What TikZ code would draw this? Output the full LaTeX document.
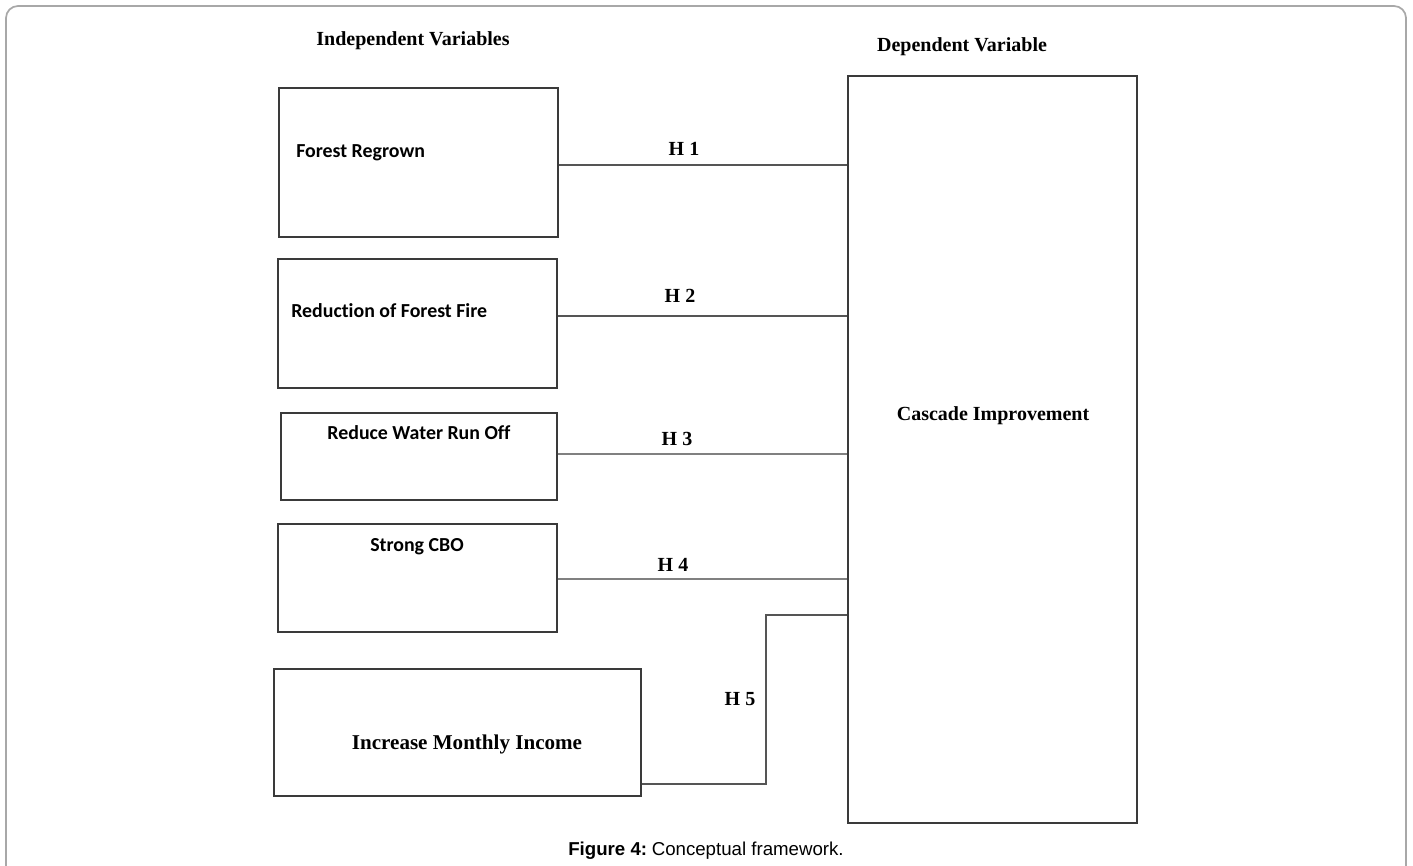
\documentclass[tikz,border=0pt]{standalone}
\usepackage{fontspec}
\setmainfont{Liberation Serif}
\newfontfamily\calib[Ligatures=NoCommon]{Carlito}
\newfontfamily\arialf{Liberation Sans}
\usetikzlibrary{fit}
\definecolor{frame}{HTML}{A8A8A8}
\definecolor{edge}{HTML}{3A3A3A}
\definecolor{hline}{HTML}{555555}
\begin{document}
\begin{tikzpicture}[x=0.75pt,y=-0.75pt,
  varbox/.style={draw=edge, line width=1.0pt, inner sep=0pt},
  calitext/.style={font=\calib\bfseries\fontsize{14.9}{17}\selectfont, inner sep=0pt},
  sertext/.style={font=\bfseries\fontsize{15}{18}\selectfont, inner sep=0pt},
  hyp/.style={draw=hline, line width=1.0pt},
  hlab/.style={font=\bfseries\fontsize{15}{18}\selectfont, inner sep=0pt}]
\useasboundingbox (0,0) rectangle (1413,866);
\clip (0,0) rectangle (1413,866);
\draw[frame, line width=1.3pt, rounded corners=9] (6,900) -- (6,6) -- (1406,6) -- (1406,900);

% headers
\node[sertext] (indep) at (413,40.5) {Independent Variables};
\node[sertext] (depl) at (962,46.5) {Dependent Variable};

% boxes
\coordinate (a1) at (279,88);  \coordinate (a2) at (558,237);
\node[varbox, fit=(a1)(a2)] (fr) {};
\coordinate (b1) at (278,259); \coordinate (b2) at (557,388);
\node[varbox, fit=(b1)(b2)] (rf) {};
\coordinate (c1) at (281,413); \coordinate (c2) at (557,500);
\node[varbox, fit=(c1)(c2)] (rw) {};
\coordinate (d1) at (278,524); \coordinate (d2) at (557,632);
\node[varbox, fit=(d1)(d2)] (cbo) {};
\coordinate (e1) at (274,669); \coordinate (e2) at (641,796);
\node[varbox, fit=(e1)(e2)] (inc) {};
\coordinate (f1) at (848,76);  \coordinate (f2) at (1137,823);
\node[varbox, fit=(f1)(f2)] (dep) {};

% box texts
\node[calitext, anchor=west] (frt) at (296,153) {Forest Regrown};
\node[calitext, anchor=west] (rft) at (291,311) {Reduction of Forest Fire};
\node[calitext] (rwt) at (419,433) {Reduce Water Run Off};
\node[calitext] (cbot) at (417,547) {Strong CBO};
\node[font=\bfseries\fontsize{15.8}{19}\selectfont, inner sep=0pt] (inct) at (467,744) {Increase Monthly Income};
\node[sertext] (dept) at (993,416) {Cascade Improvement};

% connectors
\draw[hyp] (fr.east |- 0,165) -- (dep.west |- 0,165);
\draw[hyp] (rf.east |- 0,316) -- (dep.west |- 0,316);
\draw[hyp, draw=gray, line width=1.3pt] (rw.east |- 0,454) -- (dep.west |- 0,454);
\draw[hyp, draw=gray, line width=1.4pt] (cbo.east |- 0,579) -- (dep.west |- 0,579);
\coordinate (h5a) at (766,784);
\coordinate (h5b) at (766,615);
\draw[hyp] (inc.east |- h5a) -- (h5a) -- (h5b) -- (dep.west |- h5b);

% hypothesis labels
\node[hlab] (h1) at (684,149) {H 1};
\node[hlab] (h2) at (680,296) {H 2};
\node[hlab] (h3) at (677,439) {H 3};
\node[hlab] (h4) at (673,565) {H 4};
\node[hlab] (h5) at (740,699) {H 5};

% caption
\node[font=\arialf\fontsize{14}{17}\selectfont, inner sep=0pt] (cap) at (706,851) {\textbf{Figure 4:}\hspace{0.25em}Conceptual framework.};
\end{tikzpicture}
\end{document}
